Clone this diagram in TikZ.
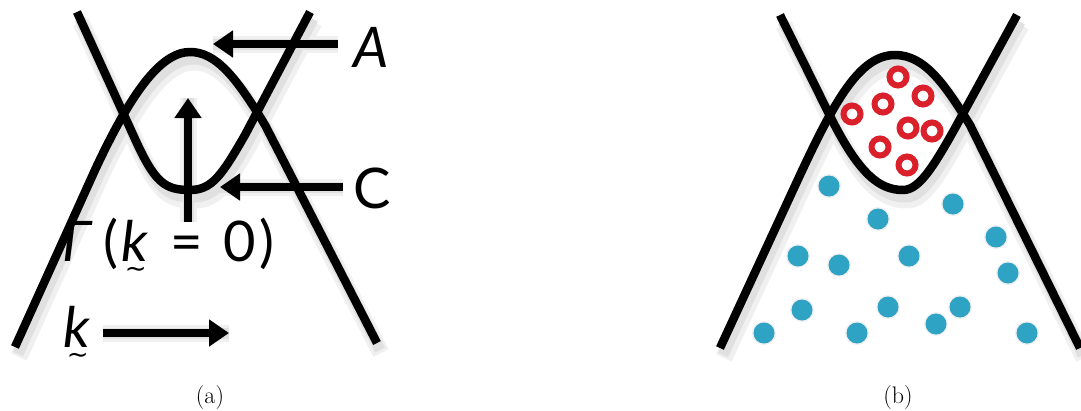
\documentclass[tikz,border=0pt]{standalone}
\usepackage{fontspec}
\setsansfont{Lato}
\newfontfamily\tildefont{DejaVu Sans}
\usetikzlibrary{arrows.meta}
\definecolor{ringred}{RGB}{218,32,42}
\definecolor{dotblue}{RGB}{46,163,196}
\newcommand\ktilde{{\itshape k}\makebox[0pt][r]{\raisebox{-16pt}[0pt][0pt]{\tildefont\fontsize{26}{28}\selectfont ∼\hspace{1pt}}}}
\tikzset{
  curve/.style={line width=8.5pt, line join=round},
  arr/.style={line width=8pt, -{Triangle[length=20pt,width=26pt]}},
  ring/.style={draw=ringred, line width=6pt},
  dot/.style={fill=dotblue},
  lbl/.style={font=\sffamily\fontsize{56}{60}\selectfont, inner sep=0pt},
  capt/.style={font=\rmfamily\fontsize{24}{28}\selectfont, inner sep=0pt},
  UA/.style={insert path={(77,12) -- (135,139) .. controls (155,183) and (165,190) .. (190,190) .. controls (212,190) and (222,175) .. (245,135) -- (310,12)}},
  NA/.style={insert path={(15,347) -- (95,170) .. controls (130,95) and (160,52) .. (190,52) .. controls (215,52) and (235,75) .. (265,125) -- (377,343)}},
  UB/.style={insert path={(780,15) -- (832,120) .. controls (860,175) and (880,190) .. (903,190) .. controls (920,190) and (935,165) .. (965,110) -- (1017,15)}},
  NB/.style={insert path={(720,348) -- (800,175) .. controls (835,100) and (860,55) .. (895,55) .. controls (925,55) and (945,85) .. (970,125) -- (1080,348)}},
  shad1/.style={draw=black!6, line width=17pt, line join=round},
  shad2/.style={draw=black!12, line width=11pt, line join=round},
}
\begin{document}
\begin{tikzpicture}[x=1pt,y=-1pt]
\useasboundingbox (0,0) rectangle (1081,410);
% named coordinates
\coordinate (Aend) at (338,44);  \coordinate (Atip) at (213,44);
\coordinate (Cend) at (343,187); \coordinate (Ctip) at (220,187);
\coordinate (Vend) at (188,222); \coordinate (Vtip) at (188,98);
\coordinate (Kend) at (103,333); \coordinate (Ktip) at (229,333);
% blue dot centres
\coordinate (d1) at (829,186);  \coordinate (d2) at (878,219);
\coordinate (d3) at (953,204);  \coordinate (d4) at (996,237);
\coordinate (d5) at (798,256);  \coordinate (d6) at (839,265);
\coordinate (d7) at (909,256);  \coordinate (d8) at (1008,273);
\coordinate (d9) at (802,310);  \coordinate (d10) at (888,307);
\coordinate (d11) at (960,307); \coordinate (d12) at (936,324);
\coordinate (d13) at (764,333); \coordinate (d14) at (857,333);
\coordinate (d15) at (1027,333);
% shadows
\begin{scope}[shift={(4,10)}]
  \draw[shad1, UA]; \draw[shad1, NA]; \draw[shad1, UB]; \draw[shad1, NB];
  \draw[shad1] (Aend) -- (Atip); \draw[shad1] (Cend) -- (Ctip);
  \draw[shad1] (Vend) -- (Vtip); \draw[shad1] (Kend) -- (Ktip);
  \foreach \n in {1,...,15} {\fill[black!6] (d\n) circle (12);}
\end{scope}
\begin{scope}[shift={(3,7)}]
  \draw[shad2, UA]; \draw[shad2, NA]; \draw[shad2, UB]; \draw[shad2, NB];
  \draw[shad2] (Aend) -- (Atip); \draw[shad2] (Cend) -- (Ctip);
  \draw[shad2] (Vend) -- (Vtip); \draw[shad2] (Kend) -- (Ktip);
  \foreach \n in {1,...,15} {\fill[black!13] (d\n) circle (10);}
\end{scope}
% ---------- panel (a)
\draw[curve, UA];
\draw[curve, NA];
\draw[arr] (Aend) -- (Atip);
\draw[arr] (Cend) -- (Ctip);
\draw[arr] (Vend) -- (Vtip);
\draw[arr] (Kend) -- (Ktip);
\node[lbl, anchor=base west] (A) at (353,67) {\itshape A};
\node[lbl, anchor=base west] (C) at (353,208) {C};
\node[lbl, anchor=base west] (gam) at (62,261) {\itshape Γ};
\node[lbl, anchor=base west] (lp) at (103,261) {(};
\node[lbl, anchor=base west] (k1) at (121,261) {\ktilde};
\node[lbl, anchor=base west] (eq) at (170,261) {=};
\node[lbl, anchor=base west] (zero) at (223,261) {0};
\node[lbl, anchor=base west] (rp) at (259,261) {)};
\node[lbl, anchor=base west] (k2) at (63,347) {\ktilde};
\node[capt] (capa) at (210,398) {(a)};
% ---------- panel (b)
\foreach \n in {1,...,15} {\fill[dot] (d\n) circle (10.5);}
\draw[curve, UB];
\draw[curve, NB];
\draw[ring] (898,77) circle (8.5);
\draw[ring] (923,96) circle (8.5);
\draw[ring] (883,104) circle (8.5);
\draw[ring] (852,114) circle (8.5);
\draw[ring] (908,128) circle (8.5);
\draw[ring] (932,131) circle (8.5);
\draw[ring] (880,147) circle (8.5);
\draw[ring] (907,165) circle (8.5);
\node[capt] (capb) at (898,398) {(b)};
\end{tikzpicture}
\end{document}
